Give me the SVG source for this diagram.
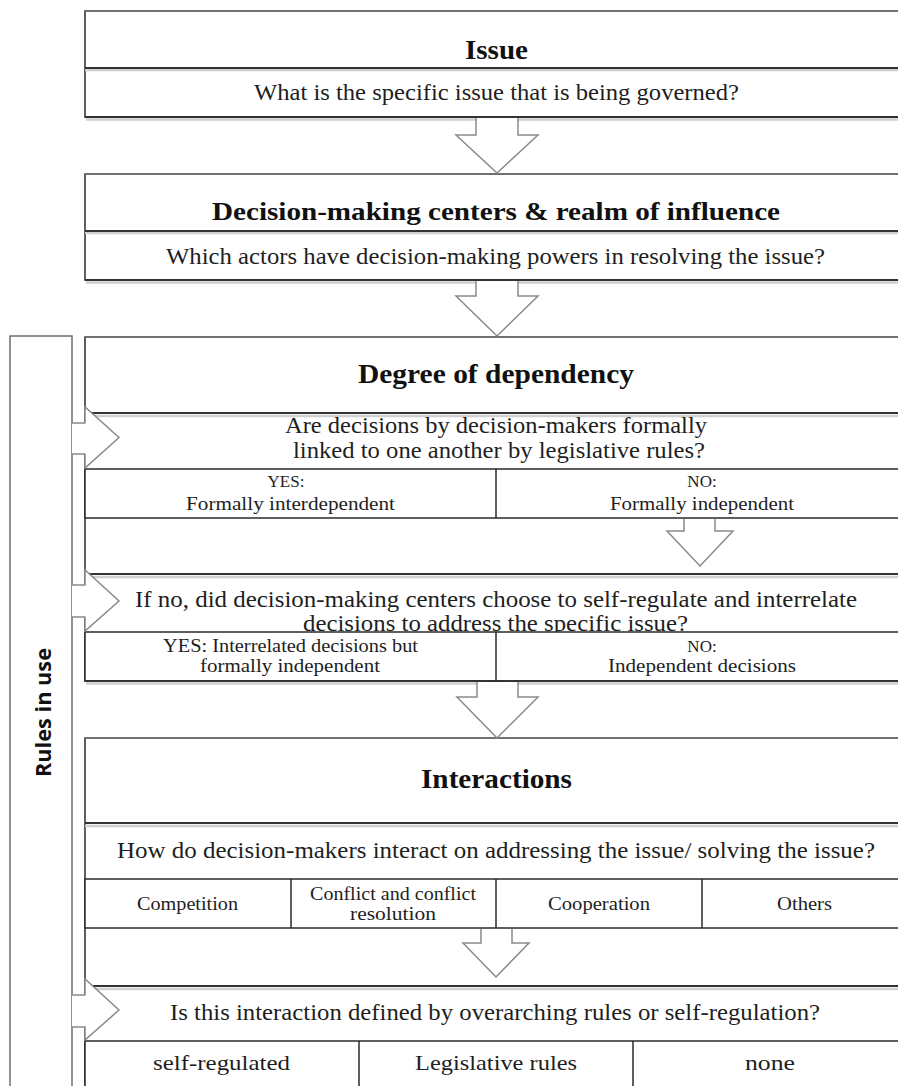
<svg xmlns="http://www.w3.org/2000/svg" width="898" height="1086" viewBox="0 0 898 1086">
<style>
  .box{fill:#fff;stroke:#2a2a2a;stroke-width:1.5}
  .top{stroke:#777;stroke-width:1.5}
  .sep{stroke:#333;stroke-width:2}
  .sh{stroke:#cfcfcf;stroke-width:2.5}
  .cell{fill:#fff;stroke:#2a2a2a;stroke-width:1.5}
  .div{stroke:#2a2a2a;stroke-width:1.5}
  .t{font-family:"Liberation Serif","DejaVu Serif",serif;fill:#1e1e1e}
  .h{font-family:"Liberation Serif","DejaVu Serif",serif;font-weight:bold;font-size:28px;fill:#111}
  .q{font-size:22.5px}
  .s{font-size:18px}
  .yn{font-size:17px;text-anchor:middle}
  .arr{fill:#fff;stroke:#8a8a8a;stroke-width:1.5;stroke-linejoin:miter}
  .rules{fill:#fff;stroke:#6e6e6e;stroke-width:1.5}
  .rl{font-family:"Open Sans","Liberation Sans",sans-serif;font-weight:bold;font-size:22px;fill:#111}
</style>

<g id="rules-in-use">
  <rect class="rules" x="10" y="336" width="62" height="800"/>
  <text class="rl" transform="translate(51,777) rotate(-90)" textLength="129" lengthAdjust="spacingAndGlyphs">Rules in use</text>
</g>

<g id="issue">
  <rect class="box" x="85" y="11" width="830" height="106"/>
  <line class="top" x1="85" y1="11" x2="915" y2="11"/>
  <line class="sh" x1="85" y1="70" x2="915" y2="70"/>
  <line class="sep" x1="85" y1="68" x2="915" y2="68"/>
  <line class="sh" x1="86" y1="119.5" x2="915" y2="119.5"/>
  <line class="sep" x1="85" y1="117" x2="915" y2="117"/>
  <text class="h" x="465" y="59" textLength="63" lengthAdjust="spacingAndGlyphs">Issue</text>
  <text class="t q" x="254" y="100" textLength="485" lengthAdjust="spacingAndGlyphs">What is the specific issue that is being governed?</text>
</g>

<g id="decision-making-centers">
  <rect class="box" x="85" y="174" width="830" height="106"/>
  <line class="top" x1="85" y1="174" x2="915" y2="174"/>
  <line class="sh" x1="85" y1="233" x2="915" y2="233"/>
  <line class="sep" x1="85" y1="231" x2="915" y2="231"/>
  <line class="sh" x1="86" y1="282.5" x2="915" y2="282.5"/>
  <line class="sep" x1="85" y1="280" x2="915" y2="280"/>
  <text class="h" x="212" y="220" style="font-size:26px" textLength="568" lengthAdjust="spacingAndGlyphs">Decision-making centers &amp; realm of influence</text>
  <text class="t q" x="166" y="264" textLength="659" lengthAdjust="spacingAndGlyphs">Which actors have decision-making powers in resolving the issue?</text>
</g>

<g id="degree-of-dependency">
  <rect class="box" x="85" y="337" width="830" height="344"/>
  <line class="top" x1="85" y1="337" x2="915" y2="337"/>
  <text class="h" x="358" y="383" textLength="276" lengthAdjust="spacingAndGlyphs">Degree of dependency</text>
  <line class="sh" x1="85" y1="416" x2="915" y2="416"/>
  <line class="sep" x1="85" y1="413" x2="915" y2="413"/>
  <text class="t q" x="285" y="433" textLength="422" lengthAdjust="spacingAndGlyphs">Are decisions by decision-makers formally</text>
  <text class="t q" x="293" y="458" textLength="412" lengthAdjust="spacingAndGlyphs">linked to one another by legislative rules?</text>
  <rect class="cell" x="85" y="469" width="830" height="49"/>
  <line class="div" x1="496" y1="469" x2="496" y2="518"/>
  <text class="t yn" x="286" y="487">YES:</text>
  <text class="t s" x="186" y="510" textLength="209" lengthAdjust="spacingAndGlyphs">Formally interdependent</text>
  <text class="t yn" x="702" y="487">NO:</text>
  <text class="t s" x="610" y="510" textLength="184" lengthAdjust="spacingAndGlyphs">Formally independent</text>
  <line class="sh" x1="85" y1="577" x2="915" y2="577"/>
  <line class="sep" x1="85" y1="574" x2="915" y2="574"/>
  <text class="t q" x="135" y="607" textLength="722" lengthAdjust="spacingAndGlyphs">If no, did decision-making centers choose to self-regulate and interrelate</text>
  <text class="t q" x="303" y="631" textLength="385" lengthAdjust="spacingAndGlyphs">decisions to address the specific issue?</text>
  <rect class="cell" x="85" y="632" width="830" height="49"/>
  <line class="sh" x1="86" y1="683.5" x2="915" y2="683.5"/>
  <line class="sep" x1="85" y1="681" x2="915" y2="681"/>
  <line class="div" x1="496" y1="632" x2="496" y2="681"/>
  <text class="t s" x="163" y="652" textLength="255" lengthAdjust="spacingAndGlyphs">YES: Interrelated decisions but</text>
  <text class="t s" x="200" y="672" textLength="180" lengthAdjust="spacingAndGlyphs">formally independent</text>
  <text class="t yn" x="702" y="652">NO:</text>
  <text class="t s" x="608" y="672" textLength="188" lengthAdjust="spacingAndGlyphs">Independent decisions</text>
</g>

<g id="interactions">
  <rect class="box" x="85" y="738" width="830" height="400"/>
  <line class="top" x1="85" y1="738" x2="915" y2="738"/>
  <text class="h" x="421" y="788" textLength="151" lengthAdjust="spacingAndGlyphs">Interactions</text>
  <line class="sh" x1="85" y1="826" x2="915" y2="826"/>
  <line class="sep" x1="85" y1="823" x2="915" y2="823"/>
  <text class="t q" x="117" y="858" textLength="758" lengthAdjust="spacingAndGlyphs">How do decision-makers interact on addressing the issue/ solving the issue?</text>
  <rect class="cell" x="85" y="879" width="830" height="49"/>
  <line class="div" x1="291" y1="879" x2="291" y2="928"/>
  <line class="div" x1="496" y1="879" x2="496" y2="928"/>
  <line class="div" x1="702" y1="879" x2="702" y2="928"/>
  <text class="t s" x="137" y="910" textLength="101" lengthAdjust="spacingAndGlyphs">Competition</text>
  <text class="t s" x="310" y="900" textLength="166" lengthAdjust="spacingAndGlyphs">Conflict and conflict</text>
  <text class="t s" x="350" y="920" textLength="86" lengthAdjust="spacingAndGlyphs">resolution</text>
  <text class="t s" x="548" y="910" textLength="102" lengthAdjust="spacingAndGlyphs">Cooperation</text>
  <text class="t s" x="777" y="910" textLength="55" lengthAdjust="spacingAndGlyphs">Others</text>
  <line class="sh" x1="85" y1="989" x2="915" y2="989"/>
  <line class="sep" x1="85" y1="986" x2="915" y2="986"/>
  <text class="t q" x="170" y="1020" textLength="650" lengthAdjust="spacingAndGlyphs">Is this interaction defined by overarching rules or self-regulation?</text>
  <rect class="cell" x="85" y="1041" width="830" height="100"/>
  <line class="div" x1="359" y1="1041" x2="359" y2="1090"/>
  <line class="div" x1="633" y1="1041" x2="633" y2="1090"/>
  <text class="t" style="font-size:21px" x="153" y="1070" textLength="137" lengthAdjust="spacingAndGlyphs">self-regulated</text>
  <text class="t" style="font-size:21px" x="415" y="1070" textLength="162" lengthAdjust="spacingAndGlyphs">Legislative rules</text>
  <text class="t" style="font-size:21px" x="745" y="1070" textLength="50" lengthAdjust="spacingAndGlyphs">none</text>
</g>

<g id="connectors">
  <path class="arr" d="M476 118 V135 H456 L497 173 L538 135 H518 V118"/>
  <path class="arr" d="M476 281 V296 H456 L497 336 L538 296 H518 V281"/>
  <path class="arr" d="M684 519 V531 H667 L700 566 L733 531 H715 V519"/>
  <path class="arr" d="M477 682 V697 H457 L497 738 L538 697 H518 V682"/>
  <path class="arr" d="M481 929 V943 H463 L496 977 L529 943 H512 V929"/>
  <path class="arr" d="M72 423 H85 V407 L119 437.5 L85 468 V454 H72"/>
  <path class="arr" d="M72 585 H85 V570 L119 601 L85 631 V617 H72"/>
  <path class="arr" d="M72 995 H85 V979 L119 1010 L85 1040 V1027 H72"/>
</g>
</svg>
